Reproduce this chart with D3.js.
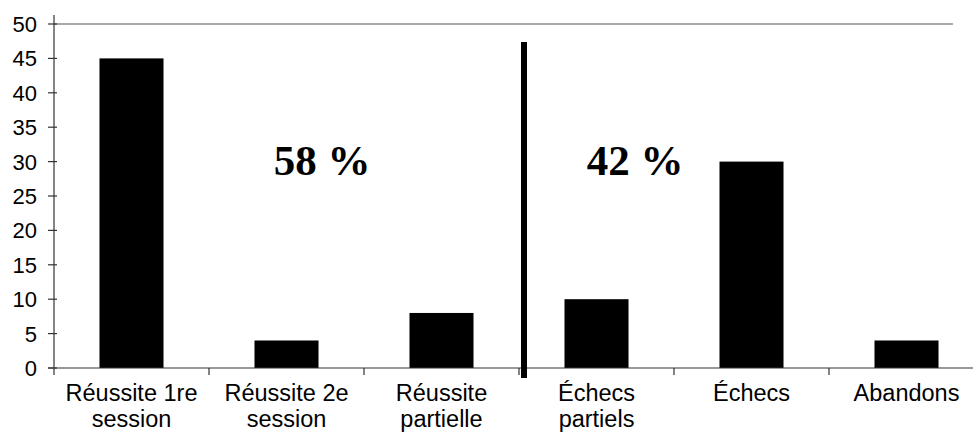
<!DOCTYPE html>
<html>
<head>
<meta charset="utf-8">
<script src="https://cdn.jsdelivr.net/npm/d3@7"></script>
<style>
  body { margin: 0; background: #fff; }
  svg { display: block; }
</style>
</head>
<body>
<div id="vis"></div>
<script>
// chart data
const CATEGORIES = ["Réussite 1re session", "Réussite 2e session", "Réussite partielle",
                    "Échecs partiels", "Échecs", "Abandons"];
const LABEL_LINES = [["Réussite 1re", "session"], ["Réussite 2e", "session"], ["Réussite", "partielle"],
                     ["Échecs", "partiels"], ["Échecs"], ["Abandons"]];
const VALUES = [45, 4, 8, 10, 30, 4];
const Y_TICKS = [0, 5, 10, 15, 20, 25, 30, 35, 40, 45, 50];
const SHARES = ["58 %", "42 %"];

// frame
const FRAME_WIDTH = 973;
const FRAME_HEIGHT = 442;
const MARGINS = {left: 54, top: 24, bottom: 74};
const SLOT = 155;

const FRAME = d3.select("#vis")
  .append("svg")
    .attr("width", FRAME_WIDTH)
    .attr("height", FRAME_HEIGHT);

// scales
const X_SLOT = d3.scaleBand()
  .domain(CATEGORIES)
  .range([MARGINS.left, MARGINS.left + SLOT * CATEGORIES.length])
  .padding(0);

const BAR_W = X_SLOT.bandwidth() * 0.413;

const Y_SCALE = d3.scaleLinear()
  .domain([0, 50])
  .range([FRAME_HEIGHT - MARGINS.bottom, MARGINS.top]);

const Y0 = Y_SCALE(0);

// top border of plot area
FRAME.append("line")
  .attr("x1", MARGINS.left).attr("x2", 953)
  .attr("y1", Y_SCALE(50)).attr("y2", Y_SCALE(50))
  .attr("stroke", "#555").attr("stroke-width", 1.2);

// y axis line + crossing ticks
FRAME.append("line")
  .attr("x1", MARGINS.left).attr("x2", MARGINS.left)
  .attr("y1", Y_SCALE(50) - 9).attr("y2", Y0 + 7)
  .attr("stroke", "#333").attr("stroke-width", 1.2);

FRAME.selectAll(".ytick")
  .data(Y_TICKS)
  .enter()
  .append("line")
    .attr("x1", MARGINS.left - 6).attr("x2", MARGINS.left + 3)
    .attr("y1", d => Y_SCALE(d)).attr("y2", d => Y_SCALE(d))
    .attr("stroke", "#333").attr("stroke-width", 1.2);

FRAME.selectAll(".ylab")
  .data(Y_TICKS)
  .enter()
  .append("text")
    .attr("x", MARGINS.left - 17)
    .attr("y", d => Y_SCALE(d))
    .attr("dy", "0.36em")
    .attr("text-anchor", "end")
    .attr("font-family", "Liberation Sans, Arial, sans-serif")
    .attr("font-size", 22)
    .text(d => d);

// bars
FRAME.selectAll(".bar")
  .data(VALUES)
  .enter()
  .append("rect")
    .attr("x", (d, i) => X_SLOT(CATEGORIES[i]) + (X_SLOT.bandwidth() - BAR_W) / 2)
    .attr("y", d => Y_SCALE(d))
    .attr("width", BAR_W)
    .attr("height", d => Y0 - Y_SCALE(d))
    .attr("fill", "#000");

// x axis line + ticks between categories
FRAME.append("line")
  .attr("x1", MARGINS.left - 6).attr("x2", FRAME_WIDTH)
  .attr("y1", Y0).attr("y2", Y0)
  .attr("stroke", "#333").attr("stroke-width", 1.2);

FRAME.selectAll(".xtick")
  .data(CATEGORIES.slice(1))
  .enter()
  .append("line")
    .attr("x1", d => X_SLOT(d)).attr("x2", d => X_SLOT(d))
    .attr("y1", Y0).attr("y2", Y0 + 7)
    .attr("stroke", "#333").attr("stroke-width", 1.2);

// category labels
const LABELS = FRAME.selectAll(".xlab")
  .data(LABEL_LINES)
  .enter()
  .append("text")
    .attr("text-anchor", "middle")
    .attr("font-family", "Liberation Sans, Arial, sans-serif")
    .attr("font-size", 23.5)
    .attr("transform", (d, i) => "translate(" + (X_SLOT(CATEGORIES[i]) + X_SLOT.bandwidth() / 2) + "," + (Y0 + 33) + ")");

LABELS.selectAll("tspan")
  .data(d => d)
  .enter()
  .append("tspan")
    .attr("x", 0)
    .attr("y", (d, j) => j * 26)
    .text(d => d);

// divider between success and failure groups
FRAME.append("line")
  .attr("x1", X_SLOT(CATEGORIES[3]) + 5).attr("x2", X_SLOT(CATEGORIES[3]) + 5)
  .attr("y1", Y_SCALE(47.4)).attr("y2", Y0 + 10)
  .attr("stroke", "#000").attr("stroke-width", 6);

// group shares
FRAME.selectAll(".share")
  .data(SHARES)
  .enter()
  .append("text")
    .attr("x", (d, i) => i === 0 ? 322 : 635)
    .attr("y", Y_SCALE(28.1))
    .attr("text-anchor", "middle")
    .attr("font-family", "Liberation Serif, Times New Roman, serif")
    .attr("font-weight", "bold")
    .attr("font-size", 43)
    .text(d => d);
</script>
</body>
</html>
